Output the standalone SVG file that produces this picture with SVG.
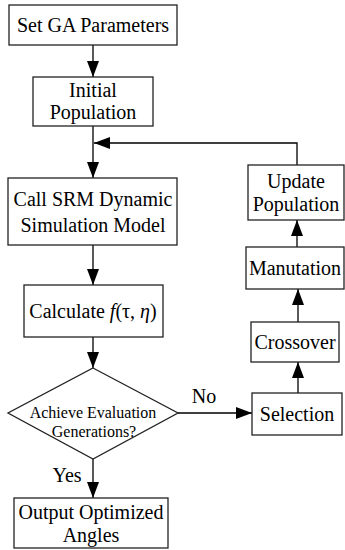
<svg xmlns="http://www.w3.org/2000/svg" width="345" height="550" viewBox="0 0 345 550">
<defs>
<style>
.box{fill:#fff;stroke:#222;stroke-width:1.3}
.t{font-family:'Liberation Serif','Times New Roman',serif;font-size:20px;fill:#000;text-anchor:middle}
.s{font-size:16px}
.c{fill:none;stroke:#000;stroke-width:1.3}
</style>
<marker id="ah" markerUnits="userSpaceOnUse" markerWidth="16" markerHeight="12" refX="16" refY="6" orient="auto">
<path d="M0,0 L16,6 L0,12 Z" fill="#000"/>
</marker>
</defs>
<rect width="345" height="550" fill="#fff"/>
<g id="connectors">
<line class="c" x1="93" y1="45" x2="93" y2="77" marker-end="url(#ah)"/>
<line class="c" x1="93" y1="126" x2="93" y2="178" marker-end="url(#ah)"/>
<polyline class="c" points="297,165 297,143 94,143" marker-end="url(#ah)"/>
<line class="c" x1="93" y1="245" x2="93" y2="285" marker-end="url(#ah)"/>
<line class="c" x1="93" y1="337" x2="93" y2="368" marker-end="url(#ah)"/>
<line class="c" x1="178" y1="413" x2="252" y2="413" marker-end="url(#ah)"/>
<line class="c" x1="93" y1="459" x2="93" y2="498" marker-end="url(#ah)"/>
<line class="c" x1="298" y1="393" x2="298" y2="362" marker-end="url(#ah)"/>
<line class="c" x1="298" y1="322" x2="298" y2="289" marker-end="url(#ah)"/>
<line class="c" x1="297" y1="247" x2="297" y2="220" marker-end="url(#ah)"/>
<text class="t" x="204" y="403">No</text>
<text class="t" x="67" y="482">Yes</text>
</g>
<g id="set-ga">
<rect class="box" x="9" y="5" width="168" height="40"/>
<text class="t" x="93" y="32">Set GA Parameters</text>
</g>
<g id="initial">
<rect class="box" x="33" y="77" width="120" height="49"/>
<text class="t" x="93" y="97">Initial</text>
<text class="t" x="93" y="119">Population</text>
</g>
<g id="call-srm">
<rect class="box" x="8" y="178" width="169" height="67"/>
<text class="t" x="93" y="206">Call SRM Dynamic</text>
<text class="t" x="93" y="232">Simulation Model</text>
</g>
<g id="calculate">
<rect class="box" x="24" y="285" width="139" height="52"/>
<text class="t" x="93" y="318">Calculate <tspan font-style="italic">f</tspan>(τ, <tspan font-style="italic">η</tspan>)</text>
</g>
<g id="decision">
<polygon class="box" points="93,368 178,413 93,459 8,413"/>
<text class="t s" x="93" y="418">Achieve Evaluation</text>
<text class="t s" x="94" y="437">Generations?</text>
</g>
<g id="output">
<rect class="box" x="14" y="498" width="154" height="50"/>
<text class="t" x="91" y="519">Output Optimized</text>
<text class="t" x="91" y="542">Angles</text>
</g>
<g id="selection">
<rect class="box" x="252" y="393" width="90" height="42"/>
<text class="t" x="297" y="421">Selection</text>
</g>
<g id="crossover">
<rect class="box" x="251" y="322" width="88" height="40"/>
<text class="t" x="295" y="349">Crossover</text>
</g>
<g id="manutation">
<rect class="box" x="246" y="247" width="98" height="42"/>
<text class="t" x="295" y="275">Manutation</text>
</g>
<g id="update">
<rect class="box" x="248" y="165" width="96" height="55"/>
<text class="t" x="296" y="188">Update</text>
<text class="t" x="296" y="211">Population</text>
</g>
</svg>
